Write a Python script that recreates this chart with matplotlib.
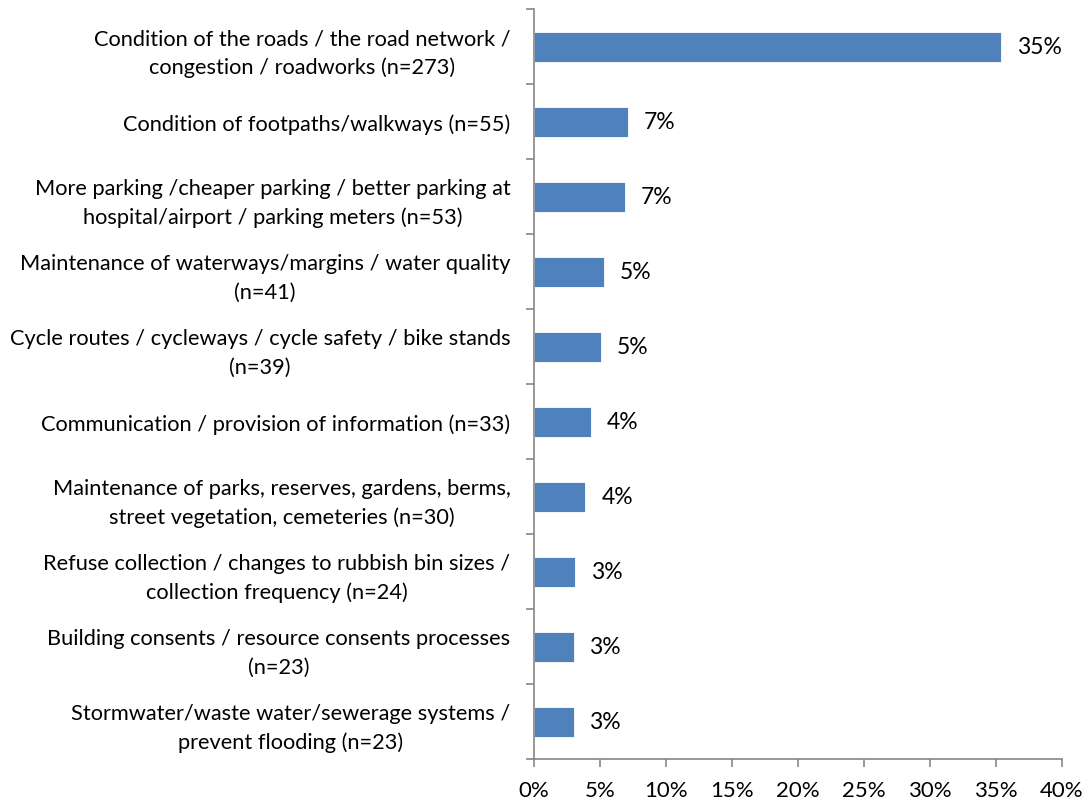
import matplotlib
matplotlib.use("Agg")
import matplotlib.pyplot as plt
from matplotlib.ticker import FixedLocator, PercentFormatter

categories = [
    "Condition of the roads / the road network /\ncongestion / roadworks (n=273)",
    "Condition of footpaths/walkways (n=55)",
    "More parking /cheaper parking / better parking at\nhospital/airport / parking meters (n=53)",
    "Maintenance of waterways/margins / water quality\n(n=41)",
    "Cycle routes / cycleways / cycle safety / bike stands\n(n=39)",
    "Communication / provision of information (n=33)",
    "Maintenance of parks, reserves, gardens, berms,\nstreet vegetation, cemeteries (n=30)",
    "Refuse collection / changes to rubbish bin sizes /\ncollection frequency (n=24)",
    "Building consents / resource consents processes\n(n=23)",
    "Stormwater/waste water/sewerage systems /\nprevent flooding (n=23)",
]
values = [35.4, 7.1, 6.9, 5.3, 5.1, 4.3, 3.9, 3.1, 3.0, 3.0]
x_ticks = [0, 5, 10, 15, 20, 25, 30, 35, 40]

plt.rcParams['font.family'] = ['Lato', 'DejaVu Sans']
FS = 15.7

fig = plt.figure(figsize=(10.91, 8.04), dpi=100)
ax = fig.add_axes([534/1091, 1 - 760/804, (1062-534)/1091, (760-10)/804])

n = len(categories)
ypos = list(range(n))
ax.barh(ypos, values, height=0.4, color="#4F81BD", edgecolor="white", linewidth=0.6)
for y, v in zip(ypos, values):
    ax.text(v + 1.2, y, f"{round(v):.0f}%", va="center", ha="left", fontsize=16.5, color="black")

ax.set_ylim(n - 0.5, -0.5)
ax.set_xlim(0, 40)
ax.set_yticks(ypos)
ax.set_yticklabels(categories, fontsize=FS, ha="right", multialignment="center", linespacing=1.5)
ax.yaxis.set_minor_locator(FixedLocator([i - 0.5 for i in range(n + 1)]))
ax.tick_params(axis="y", which="major", length=0, pad=17)
ax.tick_params(axis="y", which="minor", length=6, color="#868686", width=1.2)
ax.set_xticks(x_ticks)
ax.xaxis.set_major_formatter(PercentFormatter(decimals=0))
ax.tick_params(axis="x", which="major", length=6, color="#868686", width=1.2, labelsize=16, pad=9)

for s in ["top", "right"]:
    ax.spines[s].set_visible(False)
for s in ["left", "bottom"]:
    ax.spines[s].set_color("#868686")
    ax.spines[s].set_linewidth(1.2)

fig.savefig("out.png", dpi=100)
